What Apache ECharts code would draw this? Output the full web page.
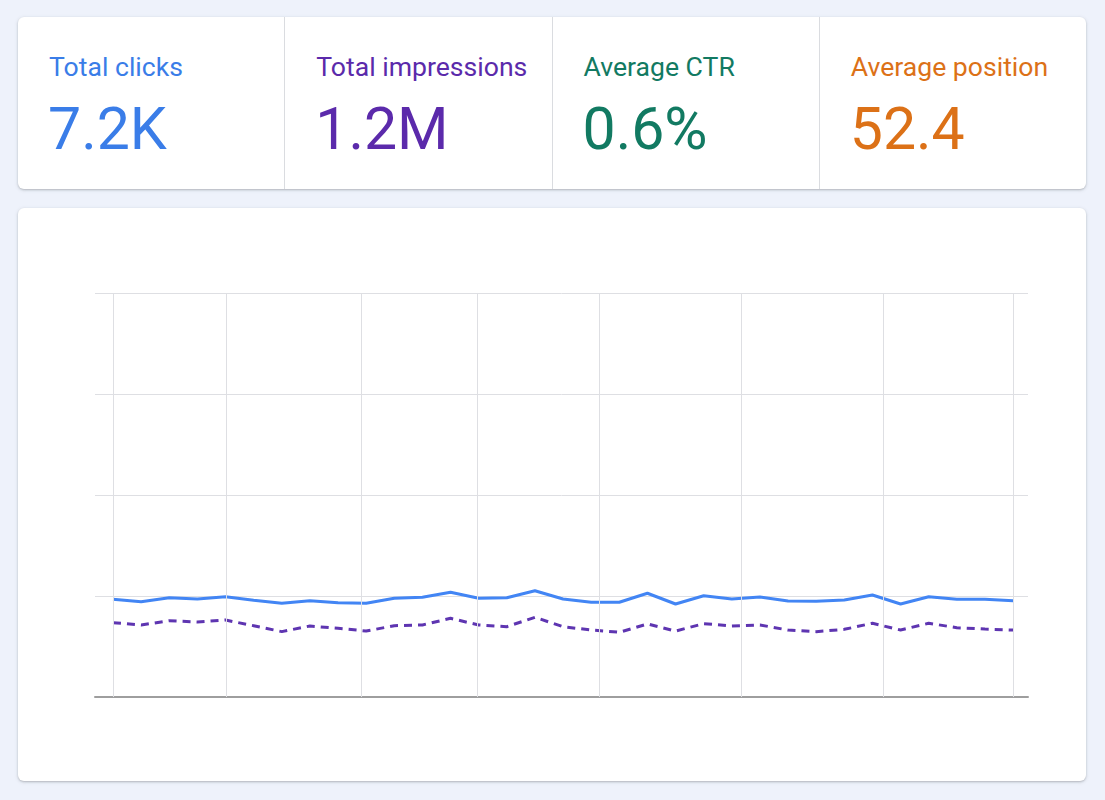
<!DOCTYPE html>
<html>
<head>
<meta charset="utf-8">
<script src="https://cdn.jsdelivr.net/npm/echarts@6/dist/echarts.min.js"></script>
<style>
    html,body{margin:0;padding:0;background:#eef2fb;font-family:Roboto,"Noto Sans",sans-serif;}
    .card{position:absolute;background:#fff;border-radius:6px;box-shadow:0 1px 2px rgba(60,64,67,0.25),0 1px 4px rgba(60,64,67,0.12);}
    #J_Kpi{left:18px;top:17px;width:1068px;height:172px;display:flex;}
    .kpi{flex:1;position:relative;border-left:1px solid #dadce0;}
    .kpi:first-child{border-left:none;}
    .kpi .title{position:absolute;left:31px;top:34px;font-size:26.6px;line-height:32px;white-space:nowrap;}
    .kpi .num{position:absolute;left:30px;top:76px;font-size:59px;line-height:72px;white-space:nowrap;}
    #J_Main{left:18px;top:208px;width:1068px;height:573px;}
</style>
</head>
<body>
<div class="card" id="J_Kpi"></div>
<div class="card" id="J_Main"></div>
<script>
// summary cards
var kpiTitles=["Total clicks","Total impressions","Average CTR","Average position"];
var kpiValues=["7.2K","1.2M","0.6%","52.4"];
var kpiColors=["#3a7de8","#5b2aab","#127a62","#dc7117"];

// daily series (index = day)
var clicks=[96.7,94.4,98.3,97,99.3,95.7,92.8,95.3,93.4,92.8,97.7,98.7,103.7,97.7,98.3,105.2,97,93.8,93.8,102.7,92.1,100.3,97,99,95,94.9,96,101,92.1,99.3,96.7,96.7,95.3];
var impressions=[73.6,71.3,75.5,74.3,76.2,70.6,64.7,70.3,68,65.3,70.6,71.3,77.9,71.3,69.6,78.9,69.6,66.3,64.1,72.3,65.3,72.6,70.3,71.3,66.3,64.7,67,73,66.3,73,68.6,67.3,66.3];
// vertical grid positions (day index)
var gridDays=[0,4.04,8.82,12.94,17.3,22.35,27.38,32];

var kpiBox=document.getElementById("J_Kpi");
kpiTitles.forEach(function(t,i){
    var el=document.createElement("div");
    el.className="kpi";
    el.innerHTML='<div class="title" style="color:'+kpiColors[i]+'">'+t+'</div>'+
        '<div class="num" style="color:'+kpiColors[i]+'">'+kpiValues[i]+'</div>';
    kpiBox.appendChild(el);
});

function toPairs(arr){
    return arr.map(function(v,i){return [i,v]});
}

var myChart=echarts.init(document.getElementById("J_Main"));
var option={
    animation:false,
    grid:{left:77,right:58,top:85,bottom:84},
    xAxis:{
        type:"value",
        min:-0.64,
        max:32.53,
        splitLine:{show:false},
        axisTick:{show:false},
        axisLabel:{show:false},
        axisLine:{show:true,lineStyle:{color:"#9e9e9e",width:2}}
    },
    yAxis:{
        type:"value",
        min:0,
        max:400,
        interval:100,
        axisLine:{show:false},
        axisTick:{show:false},
        axisLabel:{show:false},
        splitLine:{lineStyle:{color:"#dedfe3",width:1}}
    },
    series:[{
        name:"Clicks",
        type:"line",
        data:toPairs(clicks),
        showSymbol:false,
        z:3,
        lineStyle:{color:"#4285f4",width:3},
        markLine:{
            silent:true,
            symbol:"none",
            label:{show:false},
            lineStyle:{color:"#dedfe3",width:1,type:"solid"},
            data:gridDays.map(function(d){return {xAxis:d}})
        }
    },{
        name:"Impressions",
        type:"line",
        data:toPairs(impressions),
        showSymbol:false,
        z:2,
        lineStyle:{color:"#5e35b1",width:3,type:[8,6]}
    }]
};
myChart.setOption(option);
</script>
</body>
</html>
